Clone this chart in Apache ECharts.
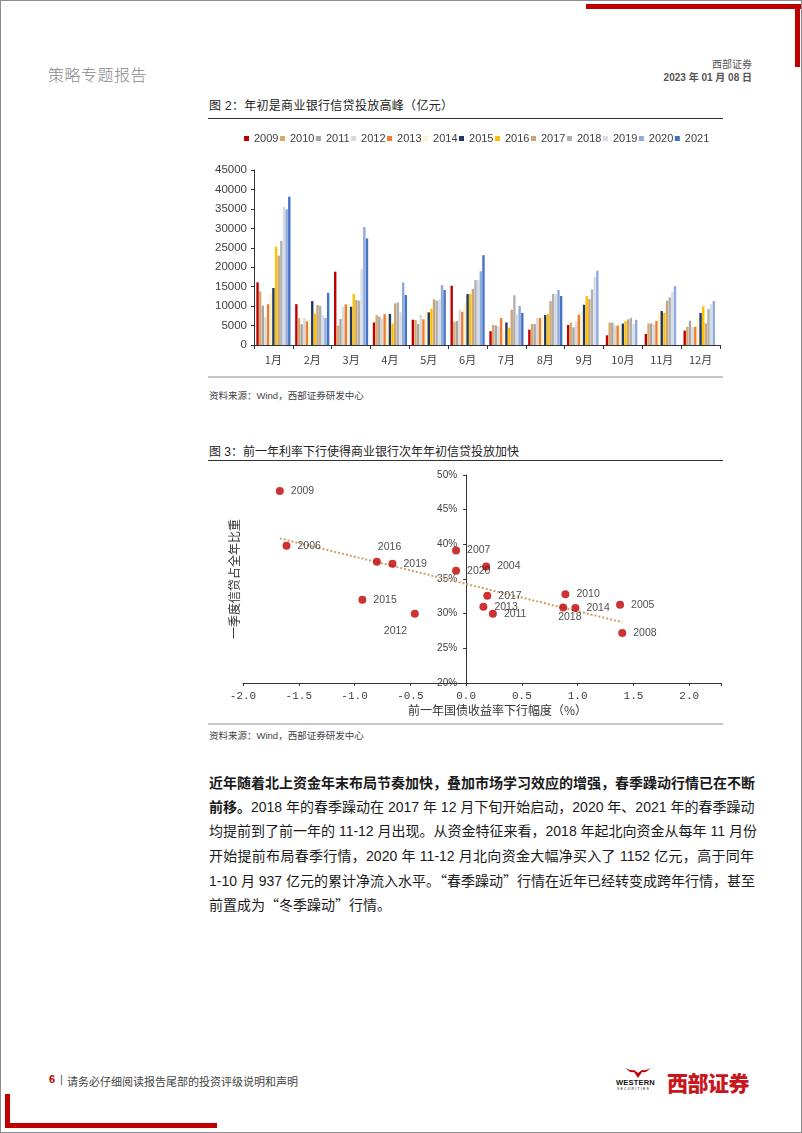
<!DOCTYPE html>
<html>
<head>
<meta charset="utf-8">
<script src="https://cdn.jsdelivr.net/npm/echarts/dist/echarts.min.js"></script>
<style>
  body { margin:0; background:#fff; }
  #page { position:relative; width:802px; height:1133px; border:1px solid #8c8c8c; box-sizing:border-box; background:#fff; overflow:hidden;
          font-family:"Liberation Sans","Noto Sans CJK SC",sans-serif; color:#222; }
  .abs { position:absolute; white-space:nowrap; }
  .red { background:#C00000; position:absolute; }
  .para { position:absolute; left:208px; width:545px; font-size:14px; line-height:20px; text-align:justify; text-align-last:justify; color:#1a1a1a; white-space:nowrap; }
  .para.last { text-align-last:left; }
  .q { font-family:"Noto Sans CJK SC"; }
</style>
</head>
<body>
<div id="page">
  <div class="red" style="left:585px;top:3px;width:215px;height:5px"></div>
  <div class="red" style="left:794px;top:3px;width:5px;height:63px"></div>

  <div class="abs" style="left:47px;top:61px;font-size:16px;color:#8a8a8a;font-weight:300;letter-spacing:0.5px">策略专题报告</div>
  <div class="abs" style="right:49px;top:55px;font-size:10px;color:#555">西部证券</div>
  <div class="abs" style="right:49px;top:68px;font-size:10px;color:#555;font-weight:bold">2023 年 01 月 08 日</div>

  <div class="abs" style="left:208px;top:95px;font-size:12px;color:#222;letter-spacing:0.3px">图 2：年初是商业银行信贷投放高峰（亿元）</div>
  <div class="abs" style="left:207px;top:117px;width:515px;height:1px;background:#333"></div>
  <div id="c1" class="abs" style="left:200px;top:125px;width:540px;height:250px"></div>
  <div class="abs" style="left:207px;top:375px;width:515px;height:2px;background:#c8c8c8"></div>
  <div class="abs" style="left:208px;top:387px;font-size:9.5px;color:#444">资料来源：Wind，西部证券研发中心</div>

  <div class="abs" style="left:208px;top:441px;font-size:12px;color:#222;letter-spacing:0px">图 3：前一年利率下行使得商业银行次年年初信贷投放加快</div>
  <div class="abs" style="left:207px;top:459px;width:515px;height:1px;background:#333"></div>
  <div id="c2" class="abs" style="left:200px;top:462px;width:540px;height:255px"></div>
  <div class="abs" style="left:207px;top:722px;width:515px;height:2px;background:#c8c8c8"></div>
  <div class="abs" style="left:208px;top:727px;font-size:9.5px;color:#444">资料来源：Wind，西部证券研发中心</div>

  <div class="para" style="top:772px;font-weight:bold">近年随着北上资金年末布局节奏加快，叠加市场学习效应的增强，春季躁动行情已在不断</div>
  <div class="para" style="top:796px"><b>前移。</b>2018 年的春季躁动在 2017 年 12 月下旬开始启动，2020 年、2021 年的春季躁动</div>
  <div class="para" style="top:820px">均提前到了前一年的 11-12 月出现。从资金特征来看，2018 年起北向资金从每年 11 月份</div>
  <div class="para" style="top:845px">开始提前布局春季行情，2020 年 11-12 月北向资金大幅净买入了 1152 亿元，高于同年</div>
  <div class="para" style="top:869px">1-10 月 937 亿元的累计净流入水平。<span class="q">“</span>春季躁动<span class="q">”</span>行情在近年已经转变成跨年行情，甚至</div>
  <div class="para last" style="top:893px">前置成为<span class="q">“</span>冬季躁动<span class="q">”</span>行情。</div>

  <div class="abs" style="left:48px;top:1072px;font-size:11px;color:#C00000;font-weight:bold">6</div>
  <div class="abs" style="left:59px;top:1072px;font-size:11px;color:#555">|</div>
  <div class="abs" style="left:66px;top:1072px;font-size:11px;color:#444">请务必仔细阅读报告尾部的投资评级说明和声明</div>
  <svg class="abs" style="left:624px;top:1066px" width="26" height="12" viewBox="0 0 26 12">
    <path d="M1 1 Q4 6 9 5 L13 11 L17 5 Q22 6 25 1 Q21 4 17 3 L13 6 L9 3 Q5 4 1 1 Z" fill="#C00000"/>
  </svg>
  <div class="abs" style="left:615px;top:1077px;font-size:7.5px;font-weight:bold;color:#111;letter-spacing:0.2px">WESTERN</div>
  <div class="abs" style="left:616px;top:1086px;font-size:3.5px;color:#111;letter-spacing:1.2px">SECURITIES</div>
  <div class="abs" style="left:666px;top:1066px;font-size:21px;font-weight:900;color:#C8161D;letter-spacing:-0.5px">西部证券</div>

  <div class="red" style="left:4px;top:1093px;width:5px;height:34px"></div>
  <div class="red" style="left:4px;top:1122px;width:212px;height:5px"></div>
</div>

<script>
// ---------- Figure 2 data (亿元) ----------
const months = ['1月','2月','3月','4月','5月','6月','7月','8月','9月','10月','11月','12月'];
const years = ['2009','2010','2011','2012','2013','2014','2015','2016','2017','2018','2019','2020','2021'];
const v2009 = [16100,10500,18850,5800,6500,15250,3550,3950,5150,2500,2850,3700];
const v2010 = [13800,6900,5000,7700,6400,6000,5200,5400,5800,5750,5550,4700];
const v2011 = [10100,5350,6700,7300,5400,6200,5000,5400,4550,5750,5550,6250];
const v2012 = [7200,6900,9800,6800,7800,9100,4800,6950,6000,5000,5300,4600];
const v2013 = [10500,6100,10450,7900,6600,8550,6950,6950,7800,5000,6150,4700];
const v2014 = [13200,6400,10500,7700,8700,10800,3900,7000,8600,5500,8500,7000];
const v2015 = [14650,11300,9850,8000,8400,13100,5800,7700,10350,5500,8750,8250];
const v2016 = [25300,8100,13100,5550,9350,13100,4400,7950,12600,6150,8300,9950];
const v2017 = [23000,10300,11550,10700,11750,14450,9100,11300,11800,6600,11400,5550];
const v2018 = [26800,10100,11400,10950,11400,16700,12800,13100,14300,7000,12250,9250];
const v2019 = [35550,7600,19550,8400,11650,16700,7950,13100,17550,5400,13550,10550];
const v2020 = [34900,6950,30350,16100,15400,18950,10050,14150,19100,6500,15150,11300];
const v2021 = [38150,13400,27400,12850,14150,23100,8250,12600,null,null,null,null];
const barValues = [v2009,v2010,v2011,v2012,v2013,v2014,v2015,v2016,v2017,v2018,v2019,v2020,v2021];
const yTicks = { min: 0, max: 45000, interval: 5000 };

// ---------- Figure 3 data ----------
const pointYears = ['2009','2006','2016','2019','2015','2012','2007','2020','2004','2017','2013','2011','2010','2018','2014','2005','2008'];
const yieldDrop  = [-1.67,-1.61,-0.80,-0.66,-0.93,-0.46,-0.09,-0.09,0.18,0.19,0.155,0.24,0.89,0.87,0.98,1.38,1.40];
const q1Share    = [47.7,39.8,37.5,37.2,32.0,30.0,39.1,36.2,36.8,32.6,31.0,30.0,32.8,30.9,30.8,31.3,27.2];
const xTicks = { min: -2, max: 2, interval: 0.5 };
const yPctTicks = { min: 20, max: 50, interval: 5 };

// ---------- styles ----------
const barColors = ['#C00000','#D6AA6E','#A6A6A6','#D9D9D9','#ED7D31','#FFF2CC','#1F3864','#FFC000','#C9A57A','#B0B0B0','#D6DCE5','#8FAADC','#4472C4'];
const labelOffsets = { '2016':[-10,-15], '2012':[-42,17], '2018':[-16,10] };
const axisColor = '#333';
const txtColor = '#404040';

const c1 = echarts.init(document.getElementById('c1'), null, {renderer:'canvas'});
c1.setOption({
  animation:false,
  legend:{
    data: years, left:38, top:2, itemWidth:5, itemHeight:5, itemGap:1.5, icon:'rect',
    textStyle:{fontSize:11, color:txtColor, fontFamily:'Liberation Sans'}
  },
  grid:{left:53, right:21, top:44, bottom:31},
  xAxis:{
    type:'category', data: months,
    axisLine:{lineStyle:{color:axisColor}},
    axisTick:{show:true, length:4, lineStyle:{color:axisColor}},
    axisLabel:{fontSize:11, color:txtColor, margin:9, fontFamily:'Noto Sans CJK SC'}
  },
  yAxis:{
    type:'value', min:yTicks.min, max:yTicks.max, interval:yTicks.interval,
    axisLine:{show:true, lineStyle:{color:axisColor}},
    axisTick:{show:true, length:3, lineStyle:{color:axisColor}},
    splitLine:{show:false},
    axisLabel:{fontSize:11.5, color:txtColor, margin:7, fontFamily:'Liberation Sans', formatter:v=>String(v)}
  },
  series: years.map((y,i)=>({
    name:y, type:'bar', data: barValues[i],
    barGap:'10%', barCategoryGap:'12%',
    itemStyle:{color: barColors[i]}
  }))
});

// regression trend line from the points
const n = yieldDrop.length;
const mx = yieldDrop.reduce((a,b)=>a+b,0)/n;
const my = q1Share.reduce((a,b)=>a+b,0)/n;
let sxy=0, sxx=0;
for (let i=0;i<n;i++){ sxy += (yieldDrop[i]-mx)*(q1Share[i]-my); sxx += (yieldDrop[i]-mx)**2; }
const slope = sxy/sxx, icpt = my - slope*mx;
const xmin = Math.min(...yieldDrop), xmax = Math.max(...yieldDrop);
const trend = [[xmin, icpt+slope*xmin],[xmax, icpt+slope*xmax]];

const axisMaxShown = 2.285;
const g2 = {left:42, right:20, top:12, bottom:35};
const gridW2 = 540 - g2.left - g2.right;
const zeroOffset = gridW2 * (0 - xTicks.min) / (axisMaxShown - xTicks.min);

const c2 = echarts.init(document.getElementById('c2'), null, {renderer:'canvas'});
c2.setOption({
  animation:false,
  grid:g2,
  xAxis:{
    type:'value', min:xTicks.min, max:axisMaxShown, interval:xTicks.interval,
    axisLine:{onZero:false, lineStyle:{color:axisColor}},
    axisTick:{show:true, length:3, lineStyle:{color:axisColor}},
    splitLine:{show:false},
    axisLabel:{fontSize:11, color:txtColor, margin:8, fontFamily:'Liberation Mono',
      formatter:v=> (v > xTicks.max + 1e-6) ? '' : v.toFixed(1)}
  },
  yAxis:{
    type:'value', position:'left', offset:-zeroOffset,
    min:yPctTicks.min, max:yPctTicks.max, interval:yPctTicks.interval,
    axisLine:{show:true, onZero:false, lineStyle:{color:axisColor}},
    axisTick:{show:true, length:3, lineStyle:{color:axisColor}},
    splitLine:{show:false},
    axisLabel:{fontSize:10, color:txtColor, margin:9, fontFamily:'Liberation Sans', formatter:'{value}%'}
  },
  graphic:[
    {type:'text', left:207, top:241, style:{text:'前一年国债收益率下行幅度（%）', fontSize:12, fill:'#333', fontFamily:'Noto Sans CJK SC'}},
    {type:'text', x:33, y:116, rotation:Math.PI/2, style:{text:'一季度信贷占全年比重', fontSize:12, fill:'#333', fontFamily:'Noto Sans CJK SC', align:'center', verticalAlign:'middle'}}
  ],
  series:[
    {type:'line', data: trend, symbol:'none', z:1,
     lineStyle:{type:'dotted', width:2, color:'#D0A060'}},
    {type:'scatter', z:3, symbolSize:8,
     itemStyle:{color:'#C00000'},
     data: pointYears.map((y,i)=>({
       name:y, value:[yieldDrop[i], q1Share[i]],
       label:{offset: labelOffsets[y] || [0,0]}
     })),
     label:{show:true, position:'right', distance:7, formatter:p=>p.name,
       fontSize:10.5, color:'#1a1a1a', fontFamily:'Liberation Sans'}
    }
  ]
});
</script>
</body>
</html>
